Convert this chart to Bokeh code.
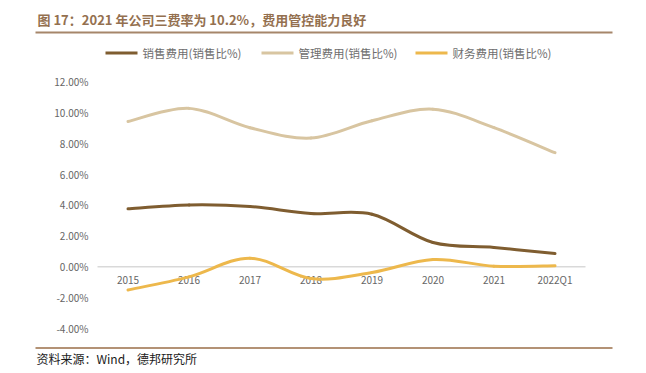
from bokeh.plotting import figure
from bokeh.models import Label, BoxAnnotation, Range1d
from bokeh.embed import file_html
from bokeh.resources import INLINE

# ---- data ----
categories = ["2015", "2016", "2017", "2018", "2019", "2020", "2021", "2022Q1"]
sales_exp = [3.75, 4.00, 3.90, 3.45, 3.40, 1.57, 1.25, 0.86]
admin_exp = [9.40, 10.25, 9.00, 8.33, 9.45, 10.20, 9.00, 7.38]
fin_exp = [-1.50, -0.65, 0.56, -0.76, -0.37, 0.47, 0.04, 0.06]
series_names = ["销售费用(销售比%)", "管理费用(销售比%)", "财务费用(销售比%)"]
series_colors = ["#7F5D30", "#D8C5A1", "#EDB84C"]
y_ticks = [-4, -2, 0, 2, 4, 6, 8, 10, 12]
y_tick_labels = ["-4.00%", "-2.00%", "0.00%", "2.00%", "4.00%", "6.00%", "8.00%", "10.00%", "12.00%"]
title_text = "图 17：2021 年公司三费率为 10.2%，费用管控能力良好"
source_text = "资料来源：Wind，德邦研究所"

W, H = 646, 373
FONT = "Noto Sans CJK SC"

# plot area: category i at px 127.5 + 61*i ; value v at py 266.3 - 15.456*v
XS, X0 = 61.0, 127.5
YS, Y0 = 15.456, 266.3
x_range = Range1d(-X0 / XS, (W - X0) / XS)
y_range = Range1d(-(H - Y0) / YS, Y0 / YS)

p = figure(width=W, height=H, output_backend="svg", toolbar_location=None,
           x_range=x_range, y_range=y_range, min_border=0,
           x_axis_location=None, y_axis_location=None)
p.outline_line_color = None
p.grid.visible = False
p.background_fill_color = "white"
p.border_fill_color = "white"

n = len(categories)
xi = list(range(n))

# zero line (category axis)
p.segment(x0=[-0.5], y0=[0], x1=[n - 0.5], y1=[0], line_color="#D9D9D9", line_width=1.5)

# y tick labels
p.text(x=[-0.5] * len(y_ticks), y=y_ticks, text=y_tick_labels, x_offset=-9,
       text_align="right", text_baseline="middle", text_font_size="10px",
       text_font={"value": FONT}, text_color="#666666")
# x category labels at zero line
p.text(x=xi, y=[0] * n, text=categories, y_offset=13,
       text_align="center", text_baseline="middle", text_font_size="10px",
       text_font={"value": FONT}, text_color="#666666")


def smooth(vals):
    pts = list(zip(xi, vals))
    x0, y0, x1, y1, cx0, cy0, cx1, cy1 = ([] for _ in range(8))
    for i in range(n - 1):
        pm = pts[i - 1] if i > 0 else pts[i]
        pa = pts[i]
        pb = pts[i + 1]
        pn = pts[i + 2] if i + 2 < n else pts[i + 1]
        x0.append(pa[0]); y0.append(pa[1])
        x1.append(pb[0]); y1.append(pb[1])
        cx0.append(pa[0] + (pb[0] - pm[0]) / 6); cy0.append(pa[1] + (pb[1] - pm[1]) / 6)
        cx1.append(pb[0] - (pn[0] - pa[0]) / 6); cy1.append(pb[1] - (pn[1] - pa[1]) / 6)
    return dict(x0=x0, y0=y0, x1=x1, y1=y1, cx0=cx0, cy0=cy0, cx1=cx1, cy1=cy1)


for vals, col in zip([sales_exp, admin_exp, fin_exp], series_colors):
    p.bezier(source=smooth(vals), x0="x0", y0="y0", x1="x1", y1="y1",
             cx0="cx0", cy0="cy0", cx1="cx1", cy1="cy1",
             line_color=col, line_width=3, line_cap="round")


def Y(page_y):
    return H - page_y


U = dict(x_units="screen", y_units="screen")
B = dict(left_units="screen", right_units="screen", top_units="screen", bottom_units="screen")

# title
p.add_layout(Label(x=37, y=Y(19), **U,
                   text=title_text, text_font=FONT, text_font_style="bold",
                   text_font_size="13px", text_color="#94704F",
                   text_baseline="middle", text_align="left"))
# rules
p.add_layout(BoxAnnotation(left=35, right=612, top=Y(31), bottom=Y(33), **B,
                           fill_color="#A6866A", fill_alpha=1, line_color=None))
p.add_layout(BoxAnnotation(left=35, right=612, top=Y(346.5), bottom=Y(348.5), **B,
                           fill_color="#B39275", fill_alpha=1, line_color=None))

# legend
leg_x = [105, 261, 415]
for lx, name, col in zip(leg_x, series_names, series_colors):
    p.add_layout(BoxAnnotation(left=lx, right=lx + 32, top=Y(51), bottom=Y(54), **B,
                               fill_color=col, fill_alpha=1, line_color=None))
    p.add_layout(Label(x=lx + 37, y=Y(52.5), **U,
                       text=name, text_font=FONT, text_font_size="11.5px",
                       text_color="#6E6E6E", text_baseline="middle"))

# source
p.add_layout(Label(x=36, y=Y(358), **U,
                   text=source_text, text_font=FONT, text_font_size="12px",
                   text_color="#1A1A1A", text_baseline="middle"))

open("out.html", "w").write(file_html(p, INLINE))
